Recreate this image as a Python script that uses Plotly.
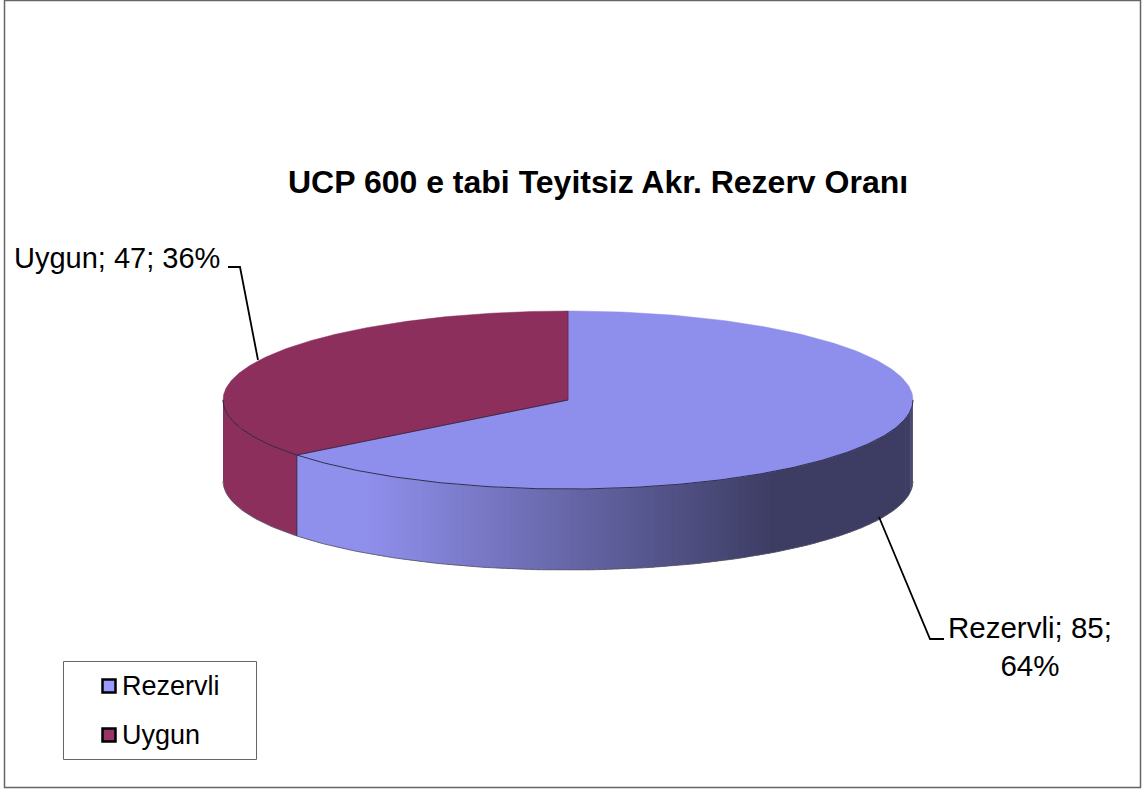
import numpy as np
import plotly.graph_objects as go

categories = ["Rezervli", "Uygun"]
values = [85, 47]
percent_labels = ["64%", "36%"]
top_colors = ["#8e8eec", "#8c2f5c"]
legend_colors = ["#9999ff", "#993366"]
title_text = "UCP 600 e tabi Teyitsiz Akr. Rezerv Oranı"

W, H = 1147, 790
CX, CY, RX, RY, DEPTH = 568, 400, 345, 89, 81
FONT = "Liberation Sans, Arial, sans-serif"
EDGE = "#23233a"


def pt(deg, drop=0.0):
    a = np.radians(deg)
    return CX + RX * np.sin(a), CY - RY * np.cos(a) + drop


def poly(xs, ys, color, line=None, width=0.8):
    return go.Scatter(x=list(xs), y=list(ys), mode="lines", fill="toself", fillcolor=color,
                      line=dict(color=line or color, width=width), hoverinfo="skip", showlegend=False)


def path(xs, ys, color="#000000", width=1.8):
    return go.Scatter(x=list(xs), y=list(ys), mode="lines", line=dict(color=color, width=width),
                      hoverinfo="skip", showlegend=False)


total = sum(values)
cut = 360 * values[0] / total
fig = go.Figure()

# front side of the first slice: shaded by horizontal position
edges = np.linspace(90, cut, 141)
for a0, a1 in zip(edges[:-1], edges[1:]):
    arc = np.linspace(a0 - 0.5 if a0 > 90 else a0, a1, 4)
    xs, ys = pt(arc)
    xb, yb = pt(arc[::-1], DEPTH)
    mid = pt((a0 + a1) / 2)[0]
    t = np.clip((mid - 365) / (770 - 365), 0, 1)
    c = [round(143 + (61 - 143) * t), round(143 + (61 - 143) * t), round(236 + (100 - 236) * t)]
    fig.add_trace(poly(np.r_[xs, xb], np.r_[ys, yb], f"rgb({c[0]},{c[1]},{c[2]})", width=0))

# front side of the second slice
arc = np.linspace(cut, 270, 40)
xs, ys = pt(arc)
xb, yb = pt(arc[::-1], DEPTH)
fig.add_trace(poly(np.r_[xs, xb], np.r_[ys, yb], top_colors[1], width=0))

# outline of the front wall
arc = np.linspace(90, 270, 180)
xb, yb = pt(arc, DEPTH)
fig.add_trace(path(xb, yb, "#555566", 0.8))
x0, y0 = pt(cut)
x1, y1 = pt(cut, DEPTH)
fig.add_trace(path([x0, x1], [y0, y1], EDGE, 0.9))

# top faces
start = 0.0
for val, col in zip(values, top_colors):
    end = start + 360 * val / total
    arc = np.linspace(start, end, 240)
    xs, ys = pt(arc)
    fig.add_trace(poly(np.r_[CX, xs, CX], np.r_[CY, ys, CY], col, line=col, width=0.5))
    start = end

arc = np.linspace(90, 270, 240)
xs, ys = pt(arc)
fig.add_trace(path(xs, ys, EDGE, 0.9))
fig.add_trace(path([CX, x0], [CY, y0], EDGE, 0.8))
fig.add_trace(path([CX, CX], [CY, CY - RY], "#5a2a50", 0.6))

# leader lines
fig.add_trace(path([879, 930, 944], [517, 639, 639]))
fig.add_trace(path([258, 240, 228], [360, 267, 267]))

# legend
for cat, col, ly in zip(categories, legend_colors, [686, 735]):
    fig.add_trace(go.Scatter(x=[109], y=[ly], mode="markers", name=cat, showlegend=False,
                             marker=dict(symbol="square", size=13, color=col, line=dict(color="#000000", width=2.5)),
                             hoverinfo="skip"))
    fig.add_annotation(x=119.5, y=ly, text=cat, showarrow=False, xanchor="left", yanchor="middle",
                       font=dict(family=FONT, size=27, color="#000000"))

fig.add_annotation(x=598, y=182, text=f"<b>{title_text}</b>", showarrow=False,
                   font=dict(family=FONT, size=32, color="#000000"))
fig.add_annotation(x=117, y=258, text=f"{categories[1]}; {values[1]}; {percent_labels[1]}", showarrow=False,
                   font=dict(family=FONT, size=29, color="#000000"))
fig.add_annotation(x=1029.5, y=646, text=f"{categories[0]}; {values[0]};<br>{percent_labels[0]}", showarrow=False,
                   align="center", font=dict(family=FONT, size=29.5, color="#000000"))

fig.update_layout(
    width=W, height=H, autosize=False, margin=dict(l=0, r=0, t=0, b=0),
    paper_bgcolor="white", plot_bgcolor="white", showlegend=False,
    xaxis=dict(range=[0, W], visible=False, fixedrange=True),
    yaxis=dict(range=[H, 0], visible=False, fixedrange=True),
    shapes=[
        dict(type="rect", xref="x", yref="y", x0=4.5, y0=0.5, x1=1140.5, y1=787.5,
             line=dict(color="#666666", width=1.5), layer="below"),
        dict(type="rect", xref="x", yref="y", x0=63.5, y0=661.5, x1=256.5, y1=759.5,
             line=dict(color="#666666", width=1), layer="below"),
    ],
)
fig.write_html("out.html", config=dict(displayModeBar=False),
               post_script="document.body.style.margin='0';document.documentElement.style.overflow='hidden';")
